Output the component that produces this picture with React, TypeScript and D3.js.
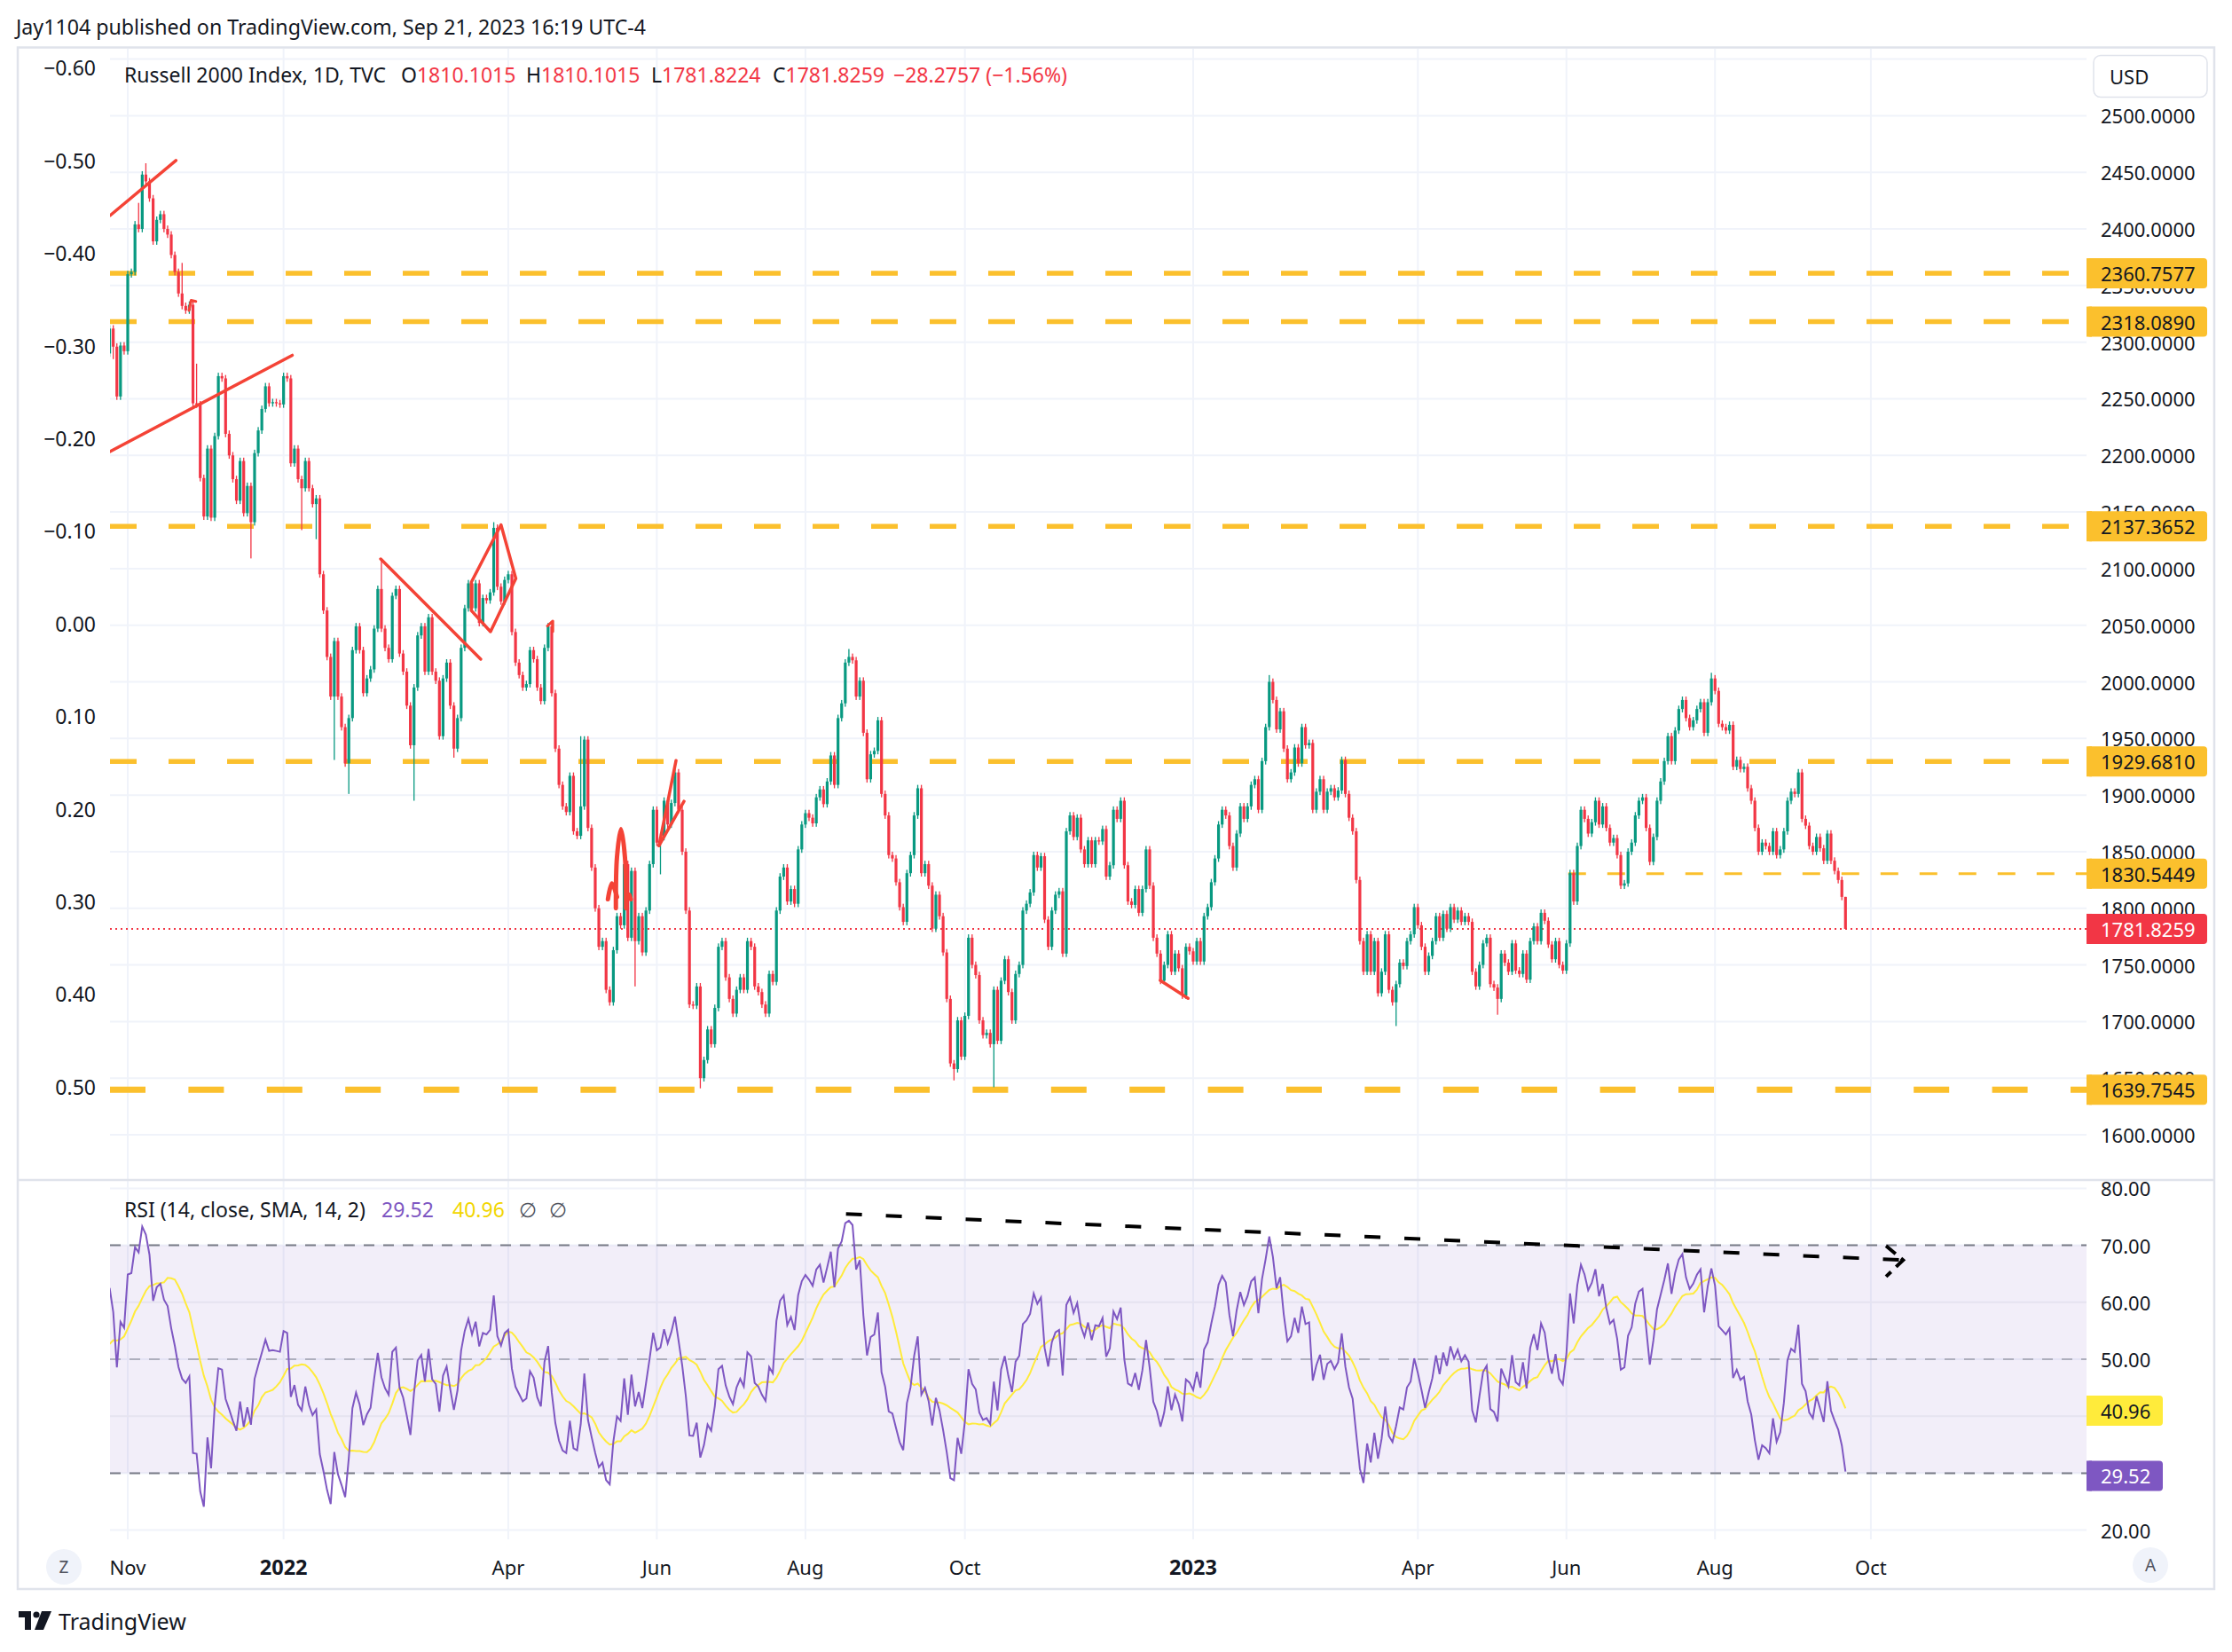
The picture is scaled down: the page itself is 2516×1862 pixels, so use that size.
import React from "react";
import * as d3 from "d3";

// ---------- DATA ----------
// closes before the visible window (used only to warm up RSI)
const preCloses = [2250, 2240, 2210, 2232, 2234, 2237, 2182, 2185, 2204, 2260, 2249, 2273, 2227, 2226, 2204, 2241, 2214, 2236, 2242, 2265, 2233, 2218, 2216, 2226, 2267, 2266, 2264, 2280, 2283, 2290];

// daily closes, Oct 25 2021 .. Sep 21 2023 (bar index 0..479); open = previous close (TVC:RUT)
const closes = [
  2312, 2296, 2252, 2297, 2292, 2360, 2362, 2404, 2400, 2448,
  2442, 2427, 2389, 2408, 2413, 2400, 2395, 2377, 2362, 2343,
  2332, 2328, 2333, 2246, 2245, 2180, 2146, 2206, 2145, 2217,
  2270, 2268, 2219, 2200, 2179, 2160, 2195, 2149, 2173, 2141,
  2202, 2222, 2241, 2261, 2246, 2247, 2246, 2245, 2270, 2268,
  2193, 2206, 2179, 2171, 2195, 2171, 2157, 2162, 2095, 2063,
  2022, 1987, 2036, 1987, 1960, 1928, 1968, 2028, 2049, 2028,
  1990, 2003, 2011, 2047, 2082, 2047, 2030, 2020, 2076, 2082,
  2025, 2009, 1979, 1944, 1995, 2041, 2049, 2009, 2057, 2009,
  2001, 1952, 2003, 2017, 1979, 1941, 1968, 2030, 2065, 2087,
  2065, 2087, 2052, 2074, 2072, 2079, 2136, 2084, 2071, 2090,
  2095, 2044, 2017, 2006, 1995, 1998, 2028, 2020, 1995, 1983,
  2030, 2049, 1990, 1941, 1909, 1890, 1885, 1917, 1868, 1864,
  1890, 1949, 1871, 1836, 1800, 1766, 1771, 1728, 1717, 1763,
  1793, 1785, 1839, 1774, 1833, 1771, 1793, 1761, 1798, 1839,
  1887, 1858, 1863, 1895, 1874, 1893, 1920, 1887, 1850, 1798,
  1715, 1714, 1731, 1650, 1666, 1693, 1680, 1712, 1766, 1771,
  1739, 1720, 1707, 1728, 1739, 1728, 1771, 1766, 1731, 1726,
  1715, 1707, 1742, 1735, 1798, 1828, 1836, 1806, 1817, 1804,
  1852, 1874, 1884, 1880, 1875, 1898, 1905, 1892, 1912, 1935,
  1909, 1968, 1981, 2017, 2022, 2019, 1987, 2001, 1955, 1914,
  1936, 1939, 1966, 1901, 1882, 1847, 1844, 1823, 1801, 1788,
  1831, 1847, 1882, 1906, 1831, 1839, 1820, 1782, 1812, 1793,
  1761, 1720, 1663, 1658, 1701, 1669, 1705, 1774, 1750, 1741,
  1701, 1688, 1690, 1680, 1728, 1683, 1736, 1755, 1726, 1701,
  1742, 1750, 1798, 1804, 1814, 1847, 1836, 1846, 1790, 1766,
  1798, 1812, 1815, 1760, 1868, 1882, 1863, 1880, 1852, 1839,
  1860, 1839, 1860, 1859, 1870, 1828, 1838, 1887, 1879, 1895,
  1838, 1806, 1803, 1817, 1796, 1817, 1852, 1820, 1774, 1760,
  1736, 1750, 1777, 1744, 1760, 1747, 1723, 1766, 1762, 1753,
  1771, 1753, 1793, 1801, 1823, 1844, 1874, 1887, 1882, 1855,
  1836, 1866, 1890, 1879, 1890, 1909, 1914, 1887, 1930, 1960,
  2000, 1984, 1958, 1974, 1941, 1914, 1920, 1942, 1928, 1960,
  1944, 1946, 1887, 1903, 1914, 1887, 1903, 1906, 1898, 1904,
  1931, 1901, 1880, 1868, 1825, 1771, 1744, 1777, 1744, 1771,
  1725, 1744, 1777, 1728, 1717, 1733, 1752, 1749, 1771, 1777,
  1801, 1785, 1766, 1744, 1758, 1771, 1793, 1774, 1795, 1782,
  1801, 1790, 1798, 1788, 1793, 1788, 1744, 1731, 1750, 1769,
  1774, 1733, 1730, 1720, 1760, 1752, 1744, 1769, 1745, 1742,
  1760, 1737, 1771, 1784, 1771, 1796, 1789, 1768, 1755, 1771,
  1750, 1745, 1769, 1831, 1806, 1855, 1887, 1879, 1866, 1876,
  1895, 1874, 1890, 1871, 1858, 1862, 1847, 1820, 1822, 1850,
  1858, 1882, 1895, 1898, 1871, 1841, 1863, 1895, 1912, 1930,
  1952, 1930, 1957, 1976, 1984, 1968, 1960, 1966, 1976, 1982,
  1955, 1982, 2003, 1992, 1963, 1960, 1957, 1962, 1925, 1931,
  1923, 1925, 1906, 1895, 1871, 1850, 1858, 1855, 1850, 1868,
  1847, 1852, 1868, 1895, 1903, 1901, 1920, 1879, 1873, 1855,
  1850, 1863, 1853, 1842, 1866, 1842, 1833, 1825, 1810.1016, 1781.8259,
];

// notable wick extremes: [bar index, price]
const highMarks = [[8, 2423], [10, 2458], [20, 2370], [24, 2281], [75, 2107], [106, 2141], [130, 1952], [204, 2029], [320, 2006], [442, 2008], [479, 1810.1015]];
const lowMarks = [[1, 2285], [39, 2109], [53, 2134], [57, 2126], [62, 1931], [66, 1901], [84, 1895], [95, 1933], [145, 1731], [152, 1830], [163, 1641], [233, 1648], [244, 1642], [355, 1696], [383, 1706], [479, 1781.8224]];

const priceTicks = [2500, 2450, 2400, 2350, 2300, 2250, 2200, 2150, 2100, 2050, 2000, 1950, 1900, 1850, 1800, 1750, 1700, 1650, 1600];
const gridPrices = [2550, ...priceTicks];
const pctTicks = [-0.6, -0.5, -0.4, -0.3, -0.2, -0.1, 0, 0.1, 0.2, 0.3, 0.4, 0.5];
const rsiTicks = [80, 70, 60, 50, 40, 30, 20];
const rsiTickLabels = [80, 70, 60, 50, 20];
const timeTicks = [
  { i: 5, t: "Nov", b: false }, { i: 48, t: "2022", b: true }, { i: 110, t: "Apr", b: false },
  { i: 151, t: "Jun", b: false }, { i: 192, t: "Aug", b: false }, { i: 236, t: "Oct", b: false },
  { i: 299, t: "2023", b: true }, { i: 361, t: "Apr", b: false }, { i: 402, t: "Jun", b: false },
  { i: 443, t: "Aug", b: false }, { i: 486, t: "Oct", b: false },
];
const levelsMajor = [2360.7577, 2318.089, 2137.3652, 1929.681];
const levelBottom = 1639.7545;
const levelMinor = 1830.5449;
const levelMinorStart = 402.5;
const lastPrice = 1781.8259;
const rsiLast = 29.52;
const rsiSmaLast = 40.96;

// drawings in (bar index, price) / (bar index, RSI)
const trendLines = [
  [[0.1, 2411.8], [18.3, 2460.5]],
  [[0.1, 2203.4], [50.4, 2288.4]],
  [[74.8, 2108.5], [102.4, 2020]],
  [[289.9, 1736.3], [297.6, 1720.5]],
  [[151.6, 1855.3], [156.3, 1930.5]],
  [[151.6, 1855.3], [158.5, 1894.5]],
];
const diamond = [[99.8, 2088], [108, 2138.7], [112.1, 2091.2], [105.1, 2044.3], [99.8, 2063], [99.8, 2088]];
const hooks = [
  [[21.9, 2328], [22.5, 2337], [23.8, 2336]],
  [[120.8, 2049.3], [122.3, 2053.7], [122.3, 2044.4]],
];
const archLeft = [[137.5, 1808], [138.6, 1822], [140.0, 1810]];
const archMain = [[139.7, 1800], [140.0, 1845], [141.1, 1870], [142.2, 1845], [142.5, 1800]];
const archDot = [[143.4, 1812], [143.8, 1808]];
const rsiTrend = [[203.2, 75.5], [494.9, 67.4]];
const rsiArrow = [[490.2, 69.9], [494.9, 67.4], [490.2, 64.5]];

// ---------- CONSTANTS ----------
const W = 2516, H = 1862;
const PL = 124, PR = 2352, PT = 55, PB = 1329, RT = 1331, RB = 1735;
const UP = "#089981", DOWN = "#F23645", YEL = "#FBC02D", TXT = "#131722";
const GRID = "#F0F3FA", BORDER = "#E0E3EB";
const FONT = "'Noto Sans', sans-serif";
const minWick = 3;

const xS = d3.scaleLinear().domain([0, 486]).range([123.575, 123.575 + 486 * 4.085]);
const pY = d3.scaleLinear().domain([1600, 2500]).range([1279, 130.4]);
const pctY = d3.scaleLinear().domain([-0.6, 0.5]).range([76.3, 1224.7]);
const rY = d3.scaleLinear().domain([20, 80]).range([1724.6, 1339.4]);

function computeRsi(vals: number[], n: number) {
  const out: (number | null)[] = vals.map(() => null);
  let ag = 0, al = 0;
  for (let i = 1; i <= n; i++) {
    const d = vals[i] - vals[i - 1];
    if (d > 0) ag += d; else al -= d;
  }
  ag /= n; al /= n;
  out[n] = al === 0 ? 100 : 100 - 100 / (1 + ag / al);
  for (let i = n + 1; i < vals.length; i++) {
    const d = vals[i] - vals[i - 1];
    ag = (ag * (n - 1) + Math.max(d, 0)) / n;
    al = (al * (n - 1) + Math.max(-d, 0)) / n;
    out[i] = al === 0 ? 100 : 100 - 100 / (1 + ag / al);
  }
  return out;
}

function sma(vals: (number | null)[], n: number) {
  return vals.map((_, i) => {
    if (i < n - 1) return null;
    let s = 0;
    for (let k = i - n + 1; k <= i; k++) {
      if (vals[k] == null) return null;
      s += vals[k] as number;
    }
    return s / n;
  });
}

export default function App() {
  const all = [...preCloses, ...closes];
  const off = preCloses.length;
  const hiMap = new Map(highMarks.map((d) => [d[0], d[1]]));
  const loMap = new Map(lowMarks.map((d) => [d[0], d[1]]));
  const candles = closes.map((c, i) => {
    const o = all[off + i - 1];
    const h = hiMap.has(i) ? Math.max(hiMap.get(i)!, o, c) : Math.max(o, c) + minWick;
    const l = loMap.has(i) ? Math.min(loMap.get(i)!, o, c) : Math.min(o, c) - minWick;
    return { o, h, l, c };
  });
  const rsiAll = computeRsi(all, 14);
  const smaAll = sma(rsiAll, 14);
  const rsi = closes.map((_, i) => rsiAll[off + i] as number);
  const rsiSma = closes.map((_, i) => smaAll[off + i] as number);

  const rsiLine = d3.line<number>().x((_, i) => xS(i)).y((v) => rY(v))(rsi) || "";
  const smaLine = d3.line<number>().x((_, i) => xS(i)).y((v) => rY(v))(rsiSma) || "";
  const pLine = d3.line<number[]>().x((d) => xS(d[0])).y((d) => pY(d[1]));
  const pCurve = d3.line<number[]>().x((d) => xS(d[0])).y((d) => pY(d[1])).curve(d3.curveCatmullRom);
  const rLine = d3.line<number[]>().x((d) => xS(d[0])).y((d) => rY(d[1]));
  const fmt4 = d3.format(".4f");
  const fmt2 = d3.format(".2f");
  const fmtPct = (v: number) => (v < 0 ? "\u2212" : "") + Math.abs(v).toFixed(2);

  const fs = 22;
  const labelBox = (y: number, text: string, fill: string, color: string, w = 136) => (
    <g>
      <rect x={PR} y={y - 17} width={w} height={34} rx={4} fill={fill} />
      <rect x={PR} y={y - 17} width={6} height={34} fill={fill} />
      <text x={2368} y={y} dominantBaseline="central" fontSize={fs} fill={color}>{text}</text>
    </g>
  );

  return (
    <div style={{ position: "absolute", left: 0, top: 0, width: W, height: H, background: "#fff" }}>
      <svg width={W} height={H} style={{ display: "block" }} fontFamily={FONT}>
        <defs>
          <clipPath id="pclip"><rect x={PL} y={PT} width={PR - PL} height={PB - PT} /></clipPath>
          <clipPath id="rclip"><rect x={PL} y={RT} width={PR - PL} height={RB - RT} /></clipPath>
        </defs>
        <rect x={0} y={0} width={W} height={H} fill="#fff" />

        {/* header */}
        <text x={18} y={30} dominantBaseline="central" fontSize={23.2} fill={TXT}>
          Jay1104 published on TradingView.com, Sep 21, 2023 16:19 UTC-4
        </text>

        {/* grid */}
        {gridPrices.map((p) => (
          <line key={"g" + p} x1={PL} x2={PR} y1={pY(p)} y2={pY(p)} stroke={GRID} strokeWidth={2} />
        ))}
        {rsiTicks.map((v) => (
          <line key={"rg" + v} x1={PL} x2={PR} y1={rY(v)} y2={rY(v)} stroke={GRID} strokeWidth={2} />
        ))}
        {timeTicks.map((t) => (
          <line key={"vg" + t.i + t.t} x1={xS(t.i)} x2={xS(t.i)} y1={PT} y2={RB} stroke={GRID} strokeWidth={2} />
        ))}

        {/* RSI band */}
        <rect x={PL} y={rY(70)} width={PR - PL} height={rY(30) - rY(70)} fill="rgba(126,87,194,0.1)" />
        {[60, 40].map((v) => (
          <line key={"rg2" + v} x1={PL} x2={PR} y1={rY(v)} y2={rY(v)} stroke="#E6E3EF" strokeWidth={1.5} />
        ))}
        <line x1={PL} x2={PR} y1={rY(70)} y2={rY(70)} stroke="#787B86" strokeWidth={2} strokeDasharray="12 10" />
        <line x1={PL} x2={PR} y1={rY(50)} y2={rY(50)} stroke="rgba(120,123,134,0.5)" strokeWidth={2} strokeDasharray="12 10" />
        <line x1={PL} x2={PR} y1={rY(30)} y2={rY(30)} stroke="#787B86" strokeWidth={2} strokeDasharray="12 10" />

        {/* level lines */}
        <g clipPath="url(#pclip)">
          {levelsMajor.map((p) => (
            <line key={"lv" + p} x1={PL} x2={PR} y1={pY(p)} y2={pY(p)} stroke={YEL} strokeWidth={5.5} strokeDasharray="30 36" />
          ))}
          <line x1={PL} x2={PR} y1={pY(levelBottom)} y2={pY(levelBottom)} stroke={YEL} strokeWidth={7} strokeDasharray="40 48.4" />
          <line x1={xS(levelMinorStart)} x2={PR} y1={pY(levelMinor)} y2={pY(levelMinor)} stroke={YEL} strokeWidth={3} strokeDasharray="20 24" />
          <line x1={PL} x2={PR} y1={pY(lastPrice)} y2={pY(lastPrice)} stroke={DOWN} strokeWidth={2} strokeDasharray="2 4" />
        </g>

        {/* candles */}
        <g clipPath="url(#pclip)">
          {candles.map((k, i) => {
            const cx = xS(i);
            const col = k.c >= k.o ? UP : DOWN;
            const yo = pY(k.o), yc = pY(k.c);
            const top = Math.min(yo, yc);
            const hgt = Math.max(1.2, Math.abs(yo - yc));
            return (
              <g key={"c" + i} fill={col}>
                <rect x={cx - 0.65} y={pY(k.h)} width={1.3} height={pY(k.l) - pY(k.h)} />
                <rect x={cx - 1.6} y={top} width={3.2} height={hgt} />
              </g>
            );
          })}
        </g>

        {/* drawings on price pane */}
        <g clipPath="url(#pclip)" fill="none" stroke="#F44336" strokeLinecap="round" strokeLinejoin="round">
          {trendLines.map((l, i) => (
            <path key={"tl" + i} d={pLine(l as any) || ""} strokeWidth={3.5} />
          ))}
          <path d={pLine(diamond as any) || ""} strokeWidth={3.5} />
          {hooks.map((h, i) => (
            <path key={"hk" + i} d={pLine(h as any) || ""} strokeWidth={3} />
          ))}
          <path d={pCurve(archLeft as any) || ""} strokeWidth={5} />
          <path d={pCurve(archMain as any) || ""} strokeWidth={5} />
          <path d={pLine(archDot as any) || ""} strokeWidth={5} />
        </g>

        {/* RSI lines */}
        <g clipPath="url(#rclip)" fill="none">
          <path d={smaLine} stroke="#FFEB3B" strokeWidth={2} />
          <path d={rsiLine} stroke="#7E57C2" strokeWidth={2} />
        </g>
        <g fill="none" stroke="#000" strokeWidth={4}>
          <path d={rLine(rsiTrend as any) || ""} strokeDasharray="18 27" />
          <path d={rLine(rsiArrow as any) || ""} strokeDasharray="14 8" />
        </g>

        {/* legends */}
        <text y={84} dominantBaseline="central" fontSize={23} fill={TXT}>
          <tspan x={140}>Russell 2000 Index, 1D, TVC</tspan>
          <tspan x={452}>O</tspan><tspan fill={DOWN}>1810.1015</tspan>
          <tspan x={593}>H</tspan><tspan fill={DOWN}>1810.1015</tspan>
          <tspan x={734}>L</tspan><tspan fill={DOWN}>1781.8224</tspan>
          <tspan x={871}>C</tspan><tspan fill={DOWN}>1781.8259</tspan>
          <tspan x={1007} fill={DOWN}>{"\u221228.2757 (\u22121.56%)"}</tspan>
        </text>
        <text y={1363} dominantBaseline="central" fontSize={23} fill={TXT}>
          <tspan x={140}>RSI (14, close, SMA, 14, 2)</tspan>
          <tspan x={430} fill="#7E57C2">{fmt2(rsiLast)}</tspan>
          <tspan x={510} fill="#F2D600">{fmt2(rsiSmaLast)}</tspan>
          <tspan x={585} fill="#50535E">{"\u2205"}</tspan>
          <tspan x={619} fill="#50535E">{"\u2205"}</tspan>
        </text>

        {/* left axis */}
        {pctTicks.map((v) => (
          <text key={"pl" + v} x={108} y={pctY(v)} textAnchor="end" dominantBaseline="central" fontSize={fs + 1} fill={TXT}>
            {fmtPct(v)}
          </text>
        ))}

        {/* right axis */}
        {priceTicks.map((p) => (
          <text key={"pr" + p} x={2368} y={pY(p)} dominantBaseline="central" fontSize={fs} fill={TXT}>
            {fmt4(p)}
          </text>
        ))}
        {rsiTickLabels.map((v) => (
          <text key={"rr" + v} x={2368} y={rY(v)} dominantBaseline="central" fontSize={fs} fill={TXT}>
            {fmt2(v)}
          </text>
        ))}
        {levelsMajor.map((p) => <g key={"lb" + p}>{labelBox(pY(p), fmt4(p), YEL, TXT)}</g>)}
        {labelBox(pY(levelMinor), fmt4(levelMinor), YEL, TXT)}
        {labelBox(pY(levelBottom), fmt4(levelBottom), YEL, TXT)}
        {labelBox(pY(lastPrice), fmt4(lastPrice), DOWN, "#fff")}
        {labelBox(rY(rsiSmaLast), fmt2(rsiSmaLast), "#FFEB3B", TXT, 86)}
        {labelBox(rY(rsiLast), fmt2(rsiLast), "#7E57C2", "#fff", 86)}

        {/* USD box */}
        <rect x={2360} y={62.5} width={128} height={47} rx={8} fill="#fff" stroke={BORDER} strokeWidth={1.5} />
        <text x={2378} y={86} dominantBaseline="central" fontSize={fs} fill={TXT}>USD</text>

        {/* time axis */}
        {timeTicks.map((t) => (
          <text key={"tt" + t.i + t.t} x={xS(t.i)} y={1766} textAnchor="middle" dominantBaseline="central" fontSize={t.b ? 23.5 : 22} fontWeight={t.b ? 700 : 400} fill={TXT}>
            {t.t}
          </text>
        ))}
        <circle cx={72} cy={1766} r={20} fill="#F0F3FA" />
        <text x={72} y={1766} textAnchor="middle" dominantBaseline="central" fontSize={19} fill="#50535E">Z</text>
        <circle cx={2424} cy={1764} r={20} fill="#F0F3FA" />
        <text x={2424} y={1764} textAnchor="middle" dominantBaseline="central" fontSize={19} fill="#50535E">A</text>

        {/* frame */}
        <rect x={20} y={53.5} width={2476} height={1737.5} fill="none" stroke={BORDER} strokeWidth={2.5} />
        <line x1={20} x2={2496} y1={1330} y2={1330} stroke={BORDER} strokeWidth={2.5} />

        {/* TradingView logo */}
        <g fill={TXT}>
          <path d="M21,1816 h14 v21 h-7 v-14 h-7 z" />
          <circle cx={41} cy={1820} r={3.6} />
          <path d="M47,1816 h11 l-9,21 h-10 z" />
        </g>
        <text x={66} y={1827} dominantBaseline="central" fontSize={25} fill={TXT}>TradingView</text>
      </svg>
    </div>
  );
}
